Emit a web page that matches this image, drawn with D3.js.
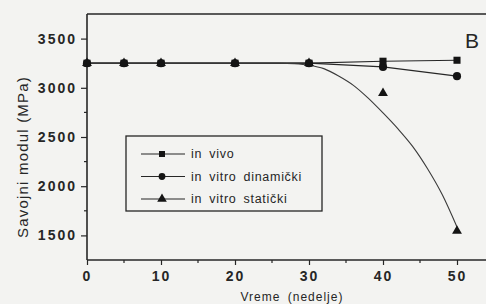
<!DOCTYPE html>
<html>
<head>
<meta charset="utf-8">
<script src="https://cdn.jsdelivr.net/npm/d3@7"></script>
<style>
html, body { margin: 0; padding: 0; background: #f3f3f1; }
svg { display: block; }
</style>
</head>
<body>
<svg id="chart" width="486" height="304"></svg>
<script>
const weeks = [0, 5, 10, 20, 30, 40, 50]
const inVivo = [3250, 3250, 3250, 3250, 3250, 3270, 3280]
const inVitroDinamicki = [3250, 3250, 3250, 3250, 3250, 3212, 3118]
const inVitroStaticki = [3250, 3250, 3250, 3250, 3250, 2945, 1545]

// fitted curve drawn through the static series
const fitWeeks = [0, 26, 28, 30, 32, 34, 36, 38, 40, 42, 44, 46, 48, 50]
const fitValues = [3250, 3250, 3245, 3230, 3195, 3120, 3025, 2895, 2745, 2585, 2405, 2180, 1915, 1585]

const xTicks = [0, 10, 20, 30, 40, 50]
const xMinor = [5, 15, 25, 35, 45]
const yTicks = [1500, 2000, 2500, 3000, 3500]
const yMinor = [1750, 2250, 2750, 3250]
const legendLabels = ["in vivo", "in vitro dinamički", "in vitro statički"]

const ink = "#262626"
const svg = d3.select("#chart")

const x = d3.scaleLinear().domain([0, 55]).range([87, 494])
const y = d3.scaleLinear().domain([1250, 3750]).range([260, 14])

// frame: top line, left axis, bottom axis
svg.append("line")
    .attr("x1", x(0)).attr("x2", 486)
    .attr("y1", y(3750)).attr("y2", y(3750))
    .attr("stroke", ink).attr("stroke-width", 1.4)

const xAxis = svg.append("g").attr("transform", `translate(0,${y(1250)})`)
    .call(d3.axisBottom(x).tickValues(xTicks).tickSize(5).tickPadding(6).tickFormat(d3.format("d")))
xAxis.append("g").selectAll("line").data(xMinor).join("line")
    .attr("x1", d => x(d)).attr("x2", d => x(d))
    .attr("y1", 0).attr("y2", 3)
const yAxis = svg.append("g").attr("transform", `translate(${x(0)},0)`)
    .call(d3.axisLeft(y).tickValues(yTicks).tickSize(6).tickPadding(4).tickFormat(d3.format("d")))
yAxis.append("g").selectAll("line").data(yMinor).join("line")
    .attr("x1", 0).attr("x2", -3)
    .attr("y1", d => y(d)).attr("y2", d => y(d))

svg.selectAll(".domain").attr("stroke", ink).attr("stroke-width", 1.6)
xAxis.selectAll("line").attr("stroke", ink).attr("stroke-width", 1.2)
yAxis.selectAll("line").attr("stroke", ink).attr("stroke-width", 1.2)
svg.selectAll(".tick text")
    .attr("fill", ink)
    .style("font-family", "Liberation Sans, Arial, sans-serif")
    .style("font-size", "14px")
    .style("font-weight", "bold")
    .style("letter-spacing", "2px")
xAxis.selectAll(".domain").attr("d", `M${x(0)},0H494`)
yAxis.selectAll(".domain").attr("d", `M0,${y(1250)}V${y(3750)}`)

// lines
const line = d3.line().x(d => x(d[0])).y(d => y(d[1]))
const series = [
    { values: inVivo, symbol: d3.symbolSquare, size: 50 },
    { values: inVitroDinamicki, symbol: d3.symbolCircle, size: 52 },
    { values: inVitroStaticki, symbol: d3.symbolTriangle, size: 42 }
]

svg.append("path")
    .datum(d3.zip(weeks, inVivo))
    .attr("d", line)
    .attr("fill", "none").attr("stroke", ink).attr("stroke-width", 1.2)
svg.append("path")
    .datum(d3.zip(weeks, inVitroDinamicki))
    .attr("d", line)
    .attr("fill", "none").attr("stroke", ink).attr("stroke-width", 1.2)
svg.append("path")
    .datum(d3.zip(fitWeeks, fitValues))
    .attr("d", line.curve(d3.curveMonotoneX))
    .attr("fill", "none").attr("stroke", "#3a3a3a").attr("stroke-width", 1.1)

series.slice().reverse().forEach(s => {
    svg.append("g").selectAll("path")
        .data(d3.zip(weeks, s.values))
        .join("path")
        .attr("transform", d => `translate(${x(d[0])},${y(d[1])})`)
        .attr("d", d3.symbol().type(s.symbol).size(s.size))
        .attr("fill", "#141414")
})

// legend
const legend = svg.append("g")
legend.append("rect")
    .attr("x", 126).attr("y", 136).attr("width", 196).attr("height", 75)
    .attr("fill", "none").attr("stroke", ink).attr("stroke-width", 1.3)
const rowY = d3.scalePoint().domain(legendLabels).range([154, 199])
legendLabels.forEach((label, i) => {
    const ly = rowY(label)
    legend.append("line")
        .attr("x1", 141).attr("x2", 185).attr("y1", ly).attr("y2", ly)
        .attr("stroke", ink).attr("stroke-width", 1.2)
    legend.append("path")
        .attr("transform", `translate(162,${ly})`)
        .attr("d", d3.symbol().type(series[i].symbol).size(i === 2 ? 40 : 36))
        .attr("fill", "#141414")
    legend.append("text")
        .attr("x", 191).attr("y", ly + 4)
        .text(label)
        .attr("fill", ink)
        .style("font-family", "Liberation Sans, Arial, sans-serif")
        .style("font-size", "12.5px")
        .style("letter-spacing", "0.7px")
        .style("word-spacing", "3px")
})

// axis titles
svg.append("text")
    .attr("transform", `translate(28,157) rotate(-90)`)
    .attr("text-anchor", "middle")
    .text("Savojni modul (MPa)")
    .attr("fill", ink)
    .style("font-family", "Liberation Sans, Arial, sans-serif")
    .style("font-size", "15px")
    .style("letter-spacing", "1.2px")

svg.append("text")
    .attr("x", 292).attr("y", 301)
    .attr("text-anchor", "middle")
    .text("Vreme (nedelje)")
    .attr("fill", ink)
    .style("font-family", "Liberation Sans, Arial, sans-serif")
    .style("font-size", "12px")
    .style("letter-spacing", "1px")
    .style("word-spacing", "3px")

svg.append("text")
    .attr("x", 465).attr("y", 48)
    .text("B")
    .attr("fill", ink)
    .style("font-family", "Liberation Sans, Arial, sans-serif")
    .style("font-size", "21px")
</script>
</body>
</html>
